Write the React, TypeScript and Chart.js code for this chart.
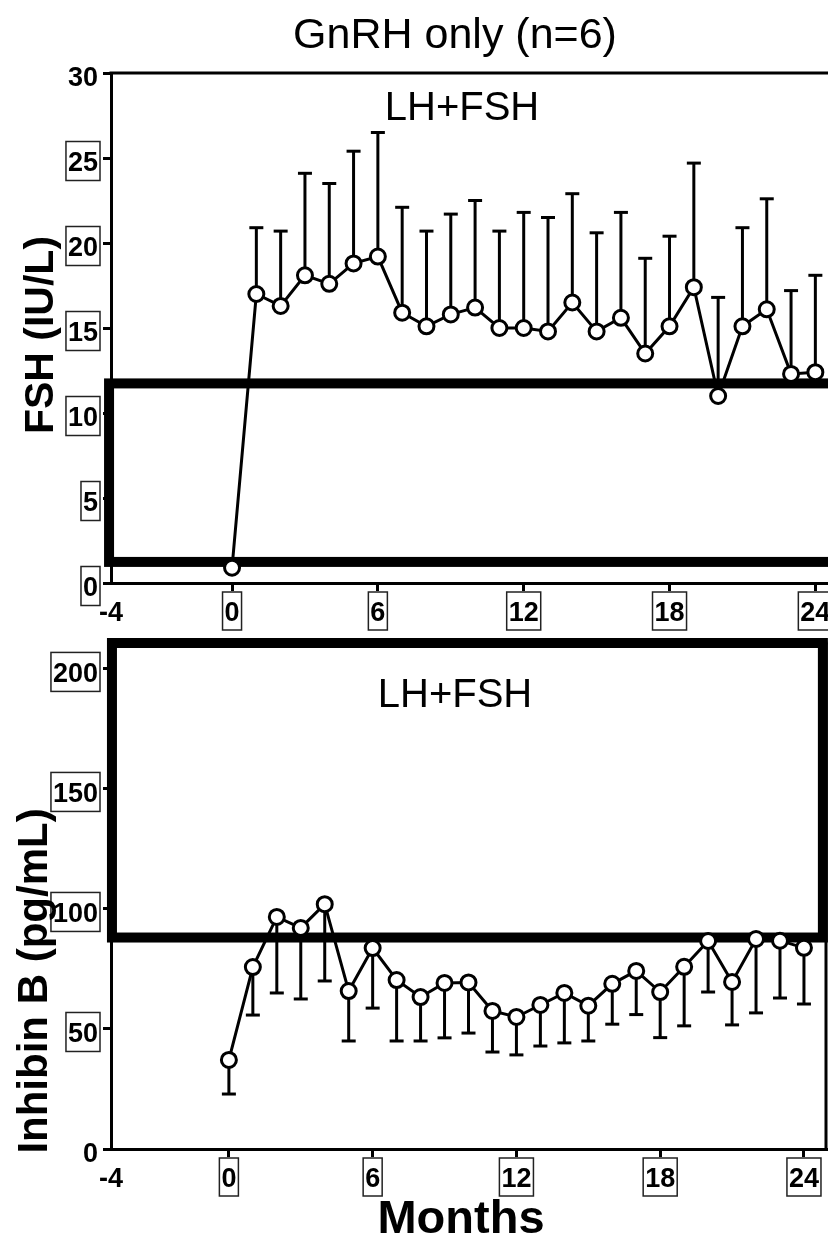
import React, { useEffect, useRef } from "react";
import { Chart, registerables } from "chart.js";

Chart.register(...registerables);

// ---------------- data ----------------
const months = [0, 1, 2, 3, 4, 5, 6, 7, 8, 9, 10, 11, 12, 13, 14, 15, 16, 17, 18, 19, 20, 21, 22, 23, 24];

const fshMean = [0.9, 17.0, 16.3, 18.1, 17.6, 18.8, 19.2, 15.9, 15.1, 15.8, 16.2, 15.0, 15.0, 14.8, 16.5, 14.8, 15.6, 13.5, 15.1, 17.4, 11.0, 15.1, 16.1, 12.3, 12.4];
const fshUpper = [null, 20.9, 20.7, 24.1, 23.5, 25.4, 26.5, 22.1, 20.7, 21.7, 22.5, 20.7, 21.8, 21.5, 22.9, 20.6, 21.8, 19.1, 20.4, 24.7, 16.8, 20.9, 22.6, 17.2, 18.1];

const inhibinMean = [37.1, 75.8, 96.7, 92.1, 102.0, 65.8, 83.7, 70.4, 63.3, 69.2, 69.4, 57.5, 55.0, 60.0, 65.0, 59.7, 68.8, 74.2, 65.4, 75.9, 86.7, 69.6, 87.5, 86.8, 83.8];
const inhibinLower = [22.9, 55.8, 65.0, 62.5, 70.0, 45.0, 58.7, 45.0, 45.0, 46.3, 48.3, 40.4, 39.2, 42.9, 44.2, 45.0, 52.0, 56.0, 46.4, 51.3, 65.4, 51.7, 56.7, 62.9, 60.4];

const xTickValues = [0, 6, 12, 18, 24];
const xTickLabels = ["0", "6", "12", "18", "24"];
const xMinLabel = "-4";

const fshTickValues = [0, 5, 10, 15, 20, 25, 30];
const fshTickLabels = ["0", "5", "10", "15", "20", "25", "30"];
const inhibinTickValues = [0, 50, 100, 150, 200];
const inhibinTickLabels = ["0", "50", "100", "150", "200"];

// axis ranges (data units)
const fshXRange = [-4.98, 24.52];
const fshYRange = [0, 30];
const inhibinXRange = [-4.92, 24.92];
const inhibinYRange = [0, 210.8];

// highlight rectangles (data units)
const fshHighlight = { x1: -5.06, x2: null as number | null, y1: 1.24, y2: 11.74 };
const inhibinHighlight = { x1: -4.88, x2: 24.79, y1: 88.1, y2: 210.8 };

const titleText = "GnRH only (n=6)";
const panelText = "LH+FSH";
const fshAxisTitle = "FSH (IU/L)";
const inhibinAxisTitle = "Inhibin B (pg/mL)";
const xAxisTitle = "Months";

// ---------------- styles ----------------
const FONT = '"Liberation Sans", Arial, Helvetica, sans-serif';
const W = 828;
const H = 1251;

type TextItem = { text: string; x: number; y: number; font: string; rotate?: boolean };

type DecorCfg = {
  name: string;
  mean: number[];
  err: (number | null)[];
  yTicks: number[];
  yLabels: string[];
  yUnboxed: string[];
  xUnboxed: string[];
  highlight: { x1: number; x2: number | null; y1: number; y2: number };
  frameTop: boolean;
  frameRight: boolean;
  texts: TextItem[];
};

function line(ctx: CanvasRenderingContext2D, x1: number, y1: number, x2: number, y2: number) {
  ctx.beginPath();
  ctx.moveTo(x1, y1);
  ctx.lineTo(x2, y2);
  ctx.stroke();
}

function decorPlugin(cfg: DecorCfg) {
  return {
    id: "decor_" + cfg.name,
    beforeDatasetsDraw(chart: any) {
      const ctx: CanvasRenderingContext2D = chart.ctx;
      const xs = chart.scales.x;
      const ys = chart.scales.y;
      const ca = chart.chartArea;
      ctx.save();
      ctx.strokeStyle = "#000";
      ctx.lineCap = "butt";
      ctx.lineWidth = 3;
      if (cfg.frameTop) line(ctx, ca.left - 1.5, ca.top, ca.right + 1.5, ca.top);
      if (cfg.frameRight) line(ctx, ca.right, ca.top, ca.right, ca.bottom + 1.5);

      // highlight rectangle
      const h = cfg.highlight;
      const hx1 = xs.getPixelForValue(h.x1);
      const hx2 = h.x2 == null ? chart.width + 30 : xs.getPixelForValue(h.x2);
      const hy1 = ys.getPixelForValue(h.y1);
      const hy2 = ys.getPixelForValue(h.y2);
      ctx.lineWidth = 10;
      ctx.lineJoin = "miter";
      ctx.strokeRect(hx1, hy2, hx2 - hx1, hy1 - hy2);

      // error bars
      ctx.lineWidth = 3;
      months.forEach((m, i) => {
        const e = cfg.err[i];
        if (e == null) return;
        const px = xs.getPixelForValue(m);
        const py = ys.getPixelForValue(cfg.mean[i]);
        const pe = ys.getPixelForValue(e);
        line(ctx, px, py, px, pe);
        line(ctx, px - 7, pe, px + 7, pe);
      });
      ctx.restore();
    },
    afterDraw(chart: any) {
      const ctx: CanvasRenderingContext2D = chart.ctx;
      const xs = chart.scales.x;
      const ys = chart.scales.y;
      const ca = chart.chartArea;
      ctx.save();
      ctx.fillStyle = "#000";
      ctx.strokeStyle = "#222";
      ctx.lineWidth = 1.5;
      ctx.font = `bold 27px ${FONT}`;
      ctx.textBaseline = "alphabetic";

      // y tick labels
      cfg.yTicks.forEach((v, i) => {
        const lab = cfg.yLabels[i];
        const py = ys.getPixelForValue(v);
        const right = ca.left - 13;
        ctx.textAlign = "right";
        ctx.fillText(lab, right, py + 12.7);
        if (!cfg.yUnboxed.includes(lab)) {
          const w = ctx.measureText(lab).width;
          ctx.strokeRect(right - w - 2, py + 3 - 19.5, w + 4, 39);
        }
      });

      // x tick labels
      ctx.textAlign = "center";
      xTickValues.forEach((v, i) => {
        const lab = xTickLabels[i];
        const px = xs.getPixelForValue(v);
        ctx.fillText(lab, px, ca.bottom + 37.7);
        if (!cfg.xUnboxed.includes(lab)) {
          const w = ctx.measureText(lab).width;
          ctx.strokeRect(px - w / 2 - 2, ca.bottom + 9, w + 4, 38);
        }
      });
      ctx.fillText(xMinLabel, xs.getPixelForValue(xs.min), ca.bottom + 37.7);

      // texts
      cfg.texts.forEach((t) => {
        ctx.font = t.font;
        ctx.textAlign = "center";
        if (t.rotate) {
          ctx.save();
          ctx.translate(t.x, t.y);
          ctx.rotate(-Math.PI / 2);
          ctx.fillText(t.text, 0, 0);
          ctx.restore();
        } else {
          ctx.fillText(t.text, t.x, t.y);
        }
      });
      ctx.restore();
    },
  };
}

function makeConfig(opts: {
  mean: number[];
  xRange: number[];
  yRange: number[];
  yTicks: number[];
  padding: { left: number; top: number; right: number; bottom: number };
  plugin: any;
}) {
  const axisCommon = {
    ticks: { display: false },
    grid: {
      display: true,
      drawOnChartArea: false,
      drawTicks: true,
      tickLength: 8,
      lineWidth: 3,
      tickWidth: 3,
      color: "#000",
      tickColor: "#000",
    },
    border: { display: true, width: 3, color: "#000" },
  };
  return {
    type: "line" as const,
    data: {
      datasets: [
        {
          data: months.map((m, i) => ({ x: m, y: opts.mean[i] })),
          borderColor: "#000",
          borderWidth: 3,
          pointRadius: 7.5,
          pointBorderWidth: 3,
          pointBackgroundColor: "#fff",
          pointBorderColor: "#000",
          tension: 0,
          fill: false,
          clip: false as any,
        },
      ],
    },
    options: {
      responsive: false,
      animation: false as const,
      devicePixelRatio: 1,
      events: [],
      layout: { padding: opts.padding, autoPadding: false },
      plugins: {
        legend: { display: false },
        tooltip: { enabled: false },
        title: { display: false },
      },
      scales: {
        x: {
          type: "linear" as const,
          position: "bottom" as const,
          min: opts.xRange[0],
          max: opts.xRange[1],
          afterBuildTicks: (s: any) => {
            s.ticks = xTickValues.map((v) => ({ value: v }));
          },
          ...axisCommon,
        },
        y: {
          type: "linear" as const,
          position: "left" as const,
          min: opts.yRange[0],
          max: opts.yRange[1],
          afterBuildTicks: (s: any) => {
            s.ticks = opts.yTicks.map((v) => ({ value: v }));
          },
          ...axisCommon,
        },
      },
    },
    plugins: [opts.plugin],
  };
}

function ChartLayer({ build }: { build: () => any }) {
  const ref = useRef<HTMLCanvasElement | null>(null);
  useEffect(() => {
    if (!ref.current) return;
    const chart = new Chart(ref.current, build());
    return () => chart.destroy();
  }, []);
  return (
    <canvas
      ref={ref}
      width={W}
      height={H}
      style={{ position: "absolute", left: 0, top: 0, width: W, height: H }}
    />
  );
}

export default function App() {
  const buildTop = () =>
    makeConfig({
      mean: fshMean,
      xRange: fshXRange,
      yRange: fshYRange,
      yTicks: fshTickValues,
      padding: { left: 103, top: 73, right: 0, bottom: 660 },
      plugin: decorPlugin({
        name: "fsh",
        mean: fshMean,
        err: fshUpper,
        yTicks: fshTickValues,
        yLabels: fshTickLabels,
        yUnboxed: ["30"],
        xUnboxed: [],
        highlight: fshHighlight,
        frameTop: true,
        frameRight: false,
        texts: [
          { text: titleText, x: 455, y: 48, font: `43px ${FONT}` },
          { text: panelText, x: 462, y: 120, font: `40px ${FONT}` },
          { text: fshAxisTitle, x: 53, y: 335, font: `bold 41px ${FONT}`, rotate: true },
        ],
      }),
    });

  const buildBottom = () =>
    makeConfig({
      mean: inhibinMean,
      xRange: inhibinXRange,
      yRange: inhibinYRange,
      yTicks: inhibinTickValues,
      padding: { left: 103, top: 643, right: 2, bottom: 94 },
      plugin: decorPlugin({
        name: "inh",
        mean: inhibinMean,
        err: inhibinLower,
        yTicks: inhibinTickValues,
        yLabels: inhibinTickLabels,
        yUnboxed: ["0"],
        xUnboxed: [],
        highlight: inhibinHighlight,
        frameTop: true,
        frameRight: true,
        texts: [
          { text: panelText, x: 455, y: 707, font: `40px ${FONT}` },
          { text: inhibinAxisTitle, x: 47, y: 981, font: `bold 42px ${FONT}`, rotate: true },
          { text: xAxisTitle, x: 461, y: 1233, font: `bold 47px ${FONT}` },
        ],
      }),
    });

  return (
    <div
      style={{
        position: "absolute",
        left: 0,
        top: 0,
        width: W,
        height: H,
        background: "#fff",
        overflow: "hidden",
      }}
    >
      <ChartLayer build={buildTop} />
      <ChartLayer build={buildBottom} />
    </div>
  );
}
